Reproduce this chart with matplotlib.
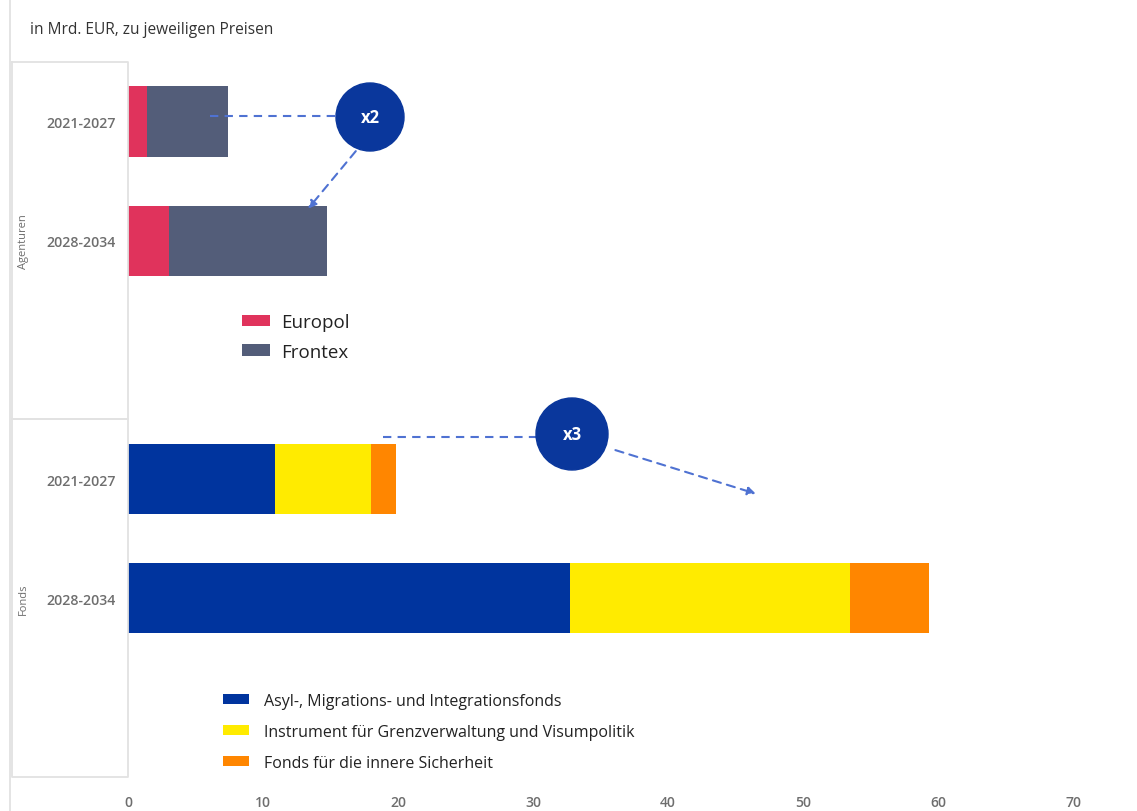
import numpy as np
import matplotlib
matplotlib.use('Agg')
import matplotlib.pyplot as plt
from matplotlib.patches import Circle
from matplotlib.lines import Line2D

plt.rcParams['font.family'] = ['Open Sans', 'DejaVu Sans']

#=======================================================================================
# Data (Mrd. EUR, zu jeweiligen Preisen)
#=======================================================================================
periods = ['2021-2027', '2028-2034']
groups = ['Agenturen', 'Fonds']

europol = [1.4, 3.0]
frontex = [6.0, 11.7]

amif = [10.9, 32.7]
bmvi = [7.1, 20.8]
isf = [1.85, 5.8]

agency_labels = ['Europol', 'Frontex']
fund_labels = ['Asyl-, Migrations- und Integrationsfonds',
               'Instrument für Grenzverwaltung und Visumpolitik',
               'Fonds für die innere Sicherheit']

c_europol = '#E0335C'
c_frontex = '#535D79'
c_amif = '#00349E'
c_bmvi = '#FFEB00'
c_isf = '#FF8600'
c_circle = '#0A379C'
c_dash = '#4F72D2'
c_grey = '#6E6E6E'
c_box = '#E2E2E2'

#=======================================================================================
# Figure
#=======================================================================================
fig = plt.figure(figsize=(11.37, 8.12), dpi=100)
ax = fig.add_axes([0.1126, 0.0419, 0.855, 0.8805])

bh = 0.59
y_ag = np.array([0.5, 1.5])
y_fd = np.array([3.5, 4.5])

b1 = ax.barh(y_ag, europol, height=bh, color=c_europol)
b2 = ax.barh(y_ag, frontex, left=europol, height=bh, color=c_frontex)

left2 = np.array(amif) + np.array(bmvi)
b3 = ax.barh(y_fd, amif, height=bh, color=c_amif)
b4 = ax.barh(y_fd, bmvi, left=amif, height=bh, color=c_bmvi)
b5 = ax.barh(y_fd, isf, left=left2, height=bh, color=c_isf)

ax.set_xlim(0, 72)
ax.set_ylim(6, 0)
ax.set_xticks(np.arange(0, 71, 10))
ax.set_yticks(list(y_ag) + list(y_fd))
ax.set_yticklabels(periods + periods)
ax.tick_params(axis='x', length=0, pad=13, labelsize=10, labelcolor=c_grey)
ax.tick_params(axis='y', length=0, pad=9, labelsize=10.2, labelcolor=c_grey)
for lab in ax.get_xticklabels() + ax.get_yticklabels():
    lab.set_fontweight('semibold')
for s in ax.spines.values():
    s.set_visible(False)

# category box on the left
bx = -116 / (0.855 * 1137)
ax.plot([bx, 0, 0, bx, bx], [0, 0, 3, 3, 0], transform=ax.get_yaxis_transform(),
        color=c_box, lw=1.3, clip_on=False)
ax.plot([bx, 0, 0, bx, bx], [3, 3, 6, 6, 3], transform=ax.get_yaxis_transform(),
        color=c_box, lw=1.3, clip_on=False)
fig.add_artist(Line2D([10 / 1137, 10 / 1137], [0, 1], color=c_box, lw=1.3))

gx = -105 / (0.855 * 1137)
ax.text(gx, 1.5, groups[0], transform=ax.get_yaxis_transform(), rotation=90,
        ha='center', va='center', fontsize=8, color=c_grey)
ax.text(gx, 4.5, groups[1], transform=ax.get_yaxis_transform(), rotation=90,
        ha='center', va='center', fontsize=8, color=c_grey)

fig.text(30 / 1137, 1 - 30 / 812, 'in Mrd. EUR, zu jeweiligen Preisen',
         fontsize=11.2, color='#333333', va='center')

#=======================================================================================
# Annotations (x2 / x3)
#=======================================================================================
# x2
ax.plot([6.1, 15.4], [0.45, 0.45], ls=(0, (4, 3)), color=c_dash, lw=1.5)
ax.annotate('', xy=(13.2, 1.25), xytext=(17.0, 0.73),
            arrowprops=dict(arrowstyle='-|>', ls=(0, (4, 3)), color=c_dash, lw=1.5,
                            mutation_scale=12))
ax.add_patch(Circle((370, 812 - 118), 34, transform=None, color=c_circle, zorder=5))
ax.text(370, 812 - 118, 'x2', transform=None, ha='center', va='center',
        fontsize=12, fontweight='bold', color='white', zorder=6)

# x3
ax.plot([18.9, 30.3], [3.15, 3.15], ls=(0, (4, 3)), color=c_dash, lw=1.5)
ax.annotate('', xy=(46.7, 3.63), xytext=(35.9, 3.25),
            arrowprops=dict(arrowstyle='-|>', ls=(0, (4, 3)), color=c_dash, lw=1.5,
                            mutation_scale=12))
ax.add_patch(Circle((572, 812 - 435), 36, transform=None, color=c_circle, zorder=5))
ax.text(572, 812 - 435, 'x3', transform=None, ha='center', va='center',
        fontsize=12, fontweight='bold', color='white', zorder=6)

#=======================================================================================
# Legends
#=======================================================================================
leg1 = ax.legend(handles=[b1, b2], labels=agency_labels, loc='upper left',
                 bbox_to_anchor=(0.1, 0.672), frameon=False, fontsize=13.5,
                 handlelength=1.5, handleheight=0.55, handletextpad=0.6,
                 labelspacing=0.6, labelcolor='#222222')
ax.add_artist(leg1)
ax.legend(handles=[b3, b4, b5], labels=fund_labels, loc='upper left',
          bbox_to_anchor=(0.083, 0.138), frameon=False, fontsize=11.5,
          handlelength=1.6, handleheight=0.6, handletextpad=0.95,
          labelspacing=0.95, labelcolor='#222222')

plt.savefig('out.png')
plt.close()
